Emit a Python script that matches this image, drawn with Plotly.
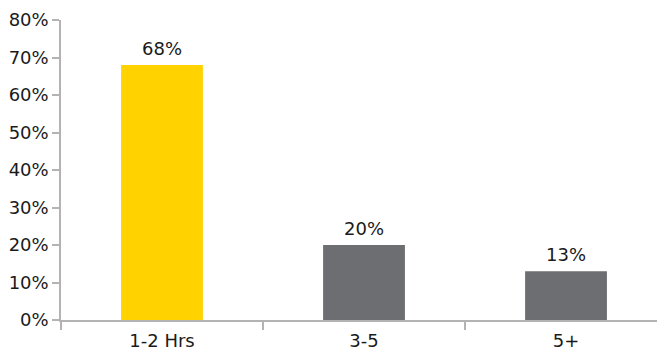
import plotly.graph_objects as go

categories = ["1-2 Hrs", "3-5", "5+"]
values = [0.68, 0.20, 0.13]
labels = ["68%", "20%", "13%"]
colors = ["#FFD200", "#6D6E71", "#6D6E71"]

fig = go.Figure()
fig.add_trace(go.Bar(x=categories, y=values, marker_color=colors, marker_line_width=0,
                     width=0.405, hoverinfo="skip", cliponaxis=False))
for c, v, t in zip(categories, values, labels):
    fig.add_annotation(x=c, y=v, text=t, showarrow=False, yanchor="bottom", yshift=4,
                       font=dict(size=18, color="#1a1a1a"))

axis_color = "#b3b3b3"
fig.update_layout(
    width=657, height=346,
    margin=dict(l=53, r=0, t=12, b=34, autoexpand=False),
    paper_bgcolor="white", plot_bgcolor="white",
    font=dict(family="DejaVu Sans", size=18, color="#1a1a1a"),
    showlegend=False,
    xaxis=dict(range=[-0.5, 2.49], showline=True, linecolor=axis_color, linewidth=1.5,
               ticks="outside", tickson="boundaries", ticklen=8, tickcolor=axis_color,
               tickwidth=1.5, showgrid=False, zeroline=False, automargin=False,
               ticklabelstandoff=4),
    yaxis=dict(range=[0, 0.8], dtick=0.1, tickformat=".0%", showline=True, linecolor=axis_color,
               linewidth=1.5, ticks="outside", ticklen=7, tickcolor=axis_color, tickwidth=1.5,
               showgrid=False, zeroline=False, automargin=False),
)
fig.write_html("out.html")
